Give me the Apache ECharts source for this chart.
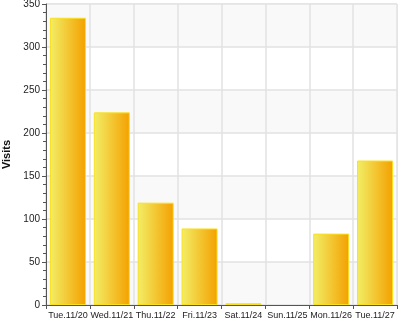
<!DOCTYPE html>
<html>
<head>
<meta charset="utf-8">
<script src="https://cdn.jsdelivr.net/npm/echarts@6/dist/echarts.min.js"></script>
<style>
html,body{margin:0;padding:0;background:#fff;}
#c{width:400px;height:327px;}
</style>
</head>
<body>
<div id="c"></div>
<script>
const categories = ['Tue.11/20','Wed.11/21','Thu.11/22','Fri.11/23','Sat.11/24','Sun.11/25','Mon.11/26','Tue.11/27'];
const visits = [334, 224, 119, 89, 2, 0, 83, 168];
const yTicks = [0, 50, 100, 150, 200, 250, 300, 350];

const chart = echarts.init(document.getElementById('c'));
chart.setOption({
  animation: false,
  backgroundColor: '#ffffff',
  grid: {left: 46, right: 3, top: 4, bottom: 22, containLabel: false, outerBoundsMode: 'none',
         show: true, borderColor: '#e0e0e0', borderWidth: 1},
  xAxis: {
    type: 'category',
    data: categories,
    boundaryGap: true,
    axisLine: {lineStyle: {color: '#555', width: 1}},
    axisTick: {show: true, length: 4, lineStyle: {color: '#555'}},
    axisLabel: {fontFamily: 'Liberation Sans', fontSize: 9, color: '#222', margin: 6, interval: 0},
    splitLine: {show: true, lineStyle: {color: '#e2e2e2', width: 1.5}}
  },
  yAxis: {
    type: 'value',
    min: yTicks[0],
    max: yTicks[yTicks.length - 1],
    interval: 50,
    name: 'Visits',
    nameLocation: 'middle',
    nameGap: 31,
    nameTextStyle: {fontFamily: 'Liberation Sans', fontSize: 11, fontWeight: 'bold', color: '#111'},
    axisLine: {show: true, lineStyle: {color: '#555', width: 1}},
    axisTick: {show: true, length: 4, lineStyle: {color: '#555'}},
    minorTick: {show: true, splitNumber: 5, length: 3, lineStyle: {color: '#555'}},
    axisLabel: {fontFamily: 'Liberation Sans', fontSize: 10, color: '#222', margin: 6},
    splitLine: {show: true, lineStyle: {color: '#e2e2e2', width: 1.5}},
    splitArea: {show: true, areaStyle: {color: ['#f9f9f9', '#ffffff']}}
  },
  series: [{
    type: 'bar',
    data: visits.map(v => v === 0 ? {value: v, itemStyle: {borderWidth: 0}} : v),
    barCategoryGap: '18%',
    itemStyle: {
      color: new echarts.graphic.LinearGradient(0, 0, 1, 0, [
        {offset: 0, color: '#f2ee66'},
        {offset: 1, color: '#f4a000'}
      ]),
      borderColor: '#f8e020',
      borderWidth: 1
    }
  }]
});
</script>
</body>
</html>
